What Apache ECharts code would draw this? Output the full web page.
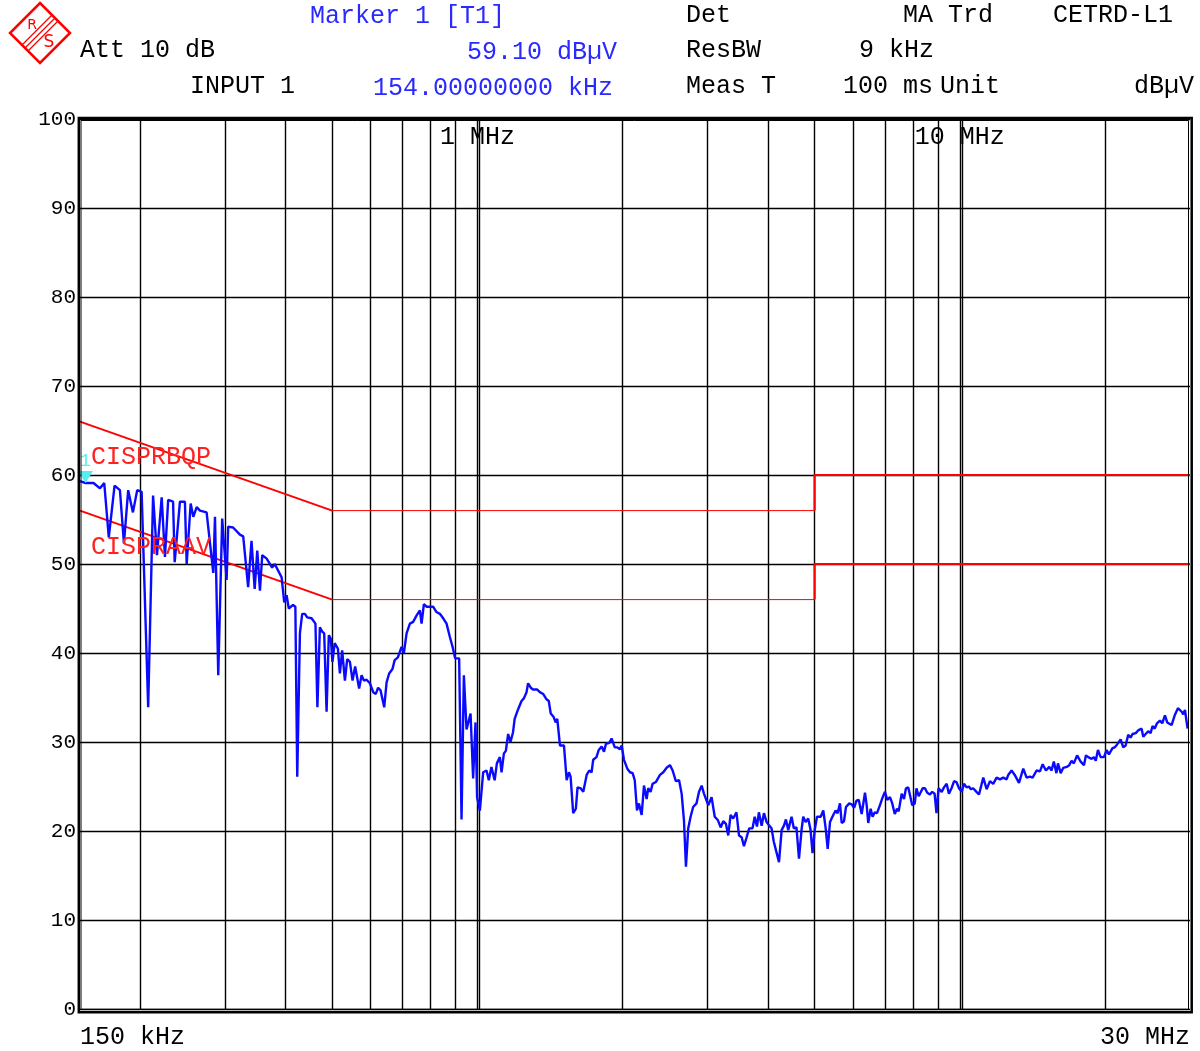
<!DOCTYPE html>
<html><head><meta charset="utf-8">
<script src="https://cdn.jsdelivr.net/npm/echarts@6/dist/echarts.min.js"></script>
<style>html,body{margin:0;padding:0;background:#fff}#c{width:1200px;height:1051px}</style>
</head><body><div id="c"></div>
<script>
// ---- data (frequency in MHz, level in dBµV) ----
const traceFreqMHz = [
0.150,0.154,0.160,0.165,0.1684,0.1721,0.1769,0.1815,0.1850,0.1888,0.1931,0.1971,0.2013,0.2077,0.2126,0.2166,0.2215,0.2250,0.2285,0.2339,
0.2357,0.2417,0.2475,0.2496,0.2544,0.2576,0.2618,0.2659,0.2745,0.2834,0.2857,0.2902,0.2957,0.3020,0.3043,0.3115,0.3218,0.3269,0.3347,0.3401,
0.3453,0.3496,0.3541,0.3580,0.3656,0.3753,0.3800,0.3927,0.3976,0.4021,0.4064,0.4147,0.4193,0.4231,0.4285,0.4332,0.4389,0.4437,0.4530,0.4615,
0.4658,0.4714,0.4766,0.4812,0.4867,0.4919,0.4966,0.5005,0.5059,0.5137,0.5186,0.5243,0.5312,0.5370,0.5440,0.5509,0.5578,0.5631,0.5685,0.5752,
0.5816,0.5891,0.5985,0.6079,0.6157,0.6224,0.6298,0.6408,0.6481,0.6561,0.6666,0.6736,0.6840,0.6962,0.7039,0.7130,0.7244,0.7357,0.7476,0.7597,
0.7659,0.7744,0.7843,0.7969,0.8093,0.8224,0.8358,0.8491,0.8629,0.8767,0.8879,0.8990,0.9164,0.9269,0.9372,0.9493,0.9676,0.9796,0.9908,0.9983,
1.0116,1.0277,1.0444,1.0557,1.0690,1.0772,1.0856,1.0972,1.1129,1.1219,1.1344,1.1452,1.1578,1.1709,1.1852,1.1943,1.2127,1.2342,1.2479,1.2640,
1.2735,1.2898,1.3039,1.3287,1.3469,1.3683,1.3905,1.4056,1.4188,1.4389,1.4524,1.4638,1.4829,1.5115,1.5309,1.5474,1.5599,1.5793,1.5996,1.6125,
1.6369,1.6573,1.6843,1.7051,1.7244,1.7374,1.7652,1.7839,1.8093,1.8294,1.8468,1.8761,1.8971,1.9260,1.9468,1.9745,1.9905,2.0126,2.0450,2.0711,
2.0975,2.1188,2.1415,2.1613,2.1898,2.2141,2.2426,2.2595,2.2854,2.3069,2.3432,2.3898,2.4278,2.4672,2.5067,2.5387,2.5779,2.6180,2.6504,2.6798,
2.7054,2.7351,2.7661,2.8000,2.8447,2.8794,2.9159,2.9483,2.9764,3.0091,3.0574,3.1040,3.1520,3.1929,3.2327,3.2744,3.3103,3.3479,3.3889,3.4430,
3.4850,3.5291,3.5683,3.6141,3.6589,3.7174,3.7566,3.7969,3.8319,3.8826,3.9257,3.9762,4.0255,4.0709,4.1148,4.1530,4.2181,4.2714,4.3189,4.3600,
4.4079,4.4786,4.5269,4.5845,4.6405,4.6992,4.7355,4.7896,4.8493,4.9043,4.9504,5.0022,5.0558,5.1472,5.2114,5.2709,5.3217,5.3806,5.4648,5.5263,
5.5781,5.6436,5.6893,5.7525,5.8073,5.8993,5.9653,6.0375,6.1053,6.1713,6.2591,6.3584,6.4100,6.4584,6.5323,6.5938,6.6627,6.7347,6.8304,6.9192,
6.9957,7.0722,7.1644,7.2423,7.3297,7.4090,7.4684,7.5755,7.6596,7.7325,7.8174,7.8821,7.9677,8.0639,8.1293,8.2172,8.2953,8.3747,8.4673,8.5599,
8.6715,8.7657,8.8649,8.9451,9.0319,9.1688,9.2706,9.3898,9.4916,9.6108,9.7300,9.8390,9.9610,10.087,10.199,10.330,10.442,10.540,10.656,10.826,
10.958,11.183,11.365,11.546,11.727,11.917,12.110,12.303,12.502,12.597,12.800,12.995,13.263,13.535,13.755,13.974,14.153,14.425,14.658,14.849,
15.083,15.322,15.494,15.661,15.857,15.974,16.183,16.384,16.651,16.857,17.047,17.231,17.499,17.802,18.084,18.257,18.457,18.753,18.956,19.131,
19.333,19.584,19.895,20.150,20.369,20.726,20.945,21.171,21.546,21.814,22.063,22.338,22.592,22.804,23.163,23.416,23.815,24.000,24.274,24.576,
24.855,25.089,25.351,25.625,25.990,26.276,26.619,26.910,27.474,27.890,28.322,28.825,29.048,29.285,29.660
];
const traceLevel = [
59.3,59.1,59.1,58.5,59.1,53.0,58.8,58.3,52.3,58.3,55.8,58.3,58.1,33.9,57.7,51.0,57.5,50.8,57.2,57.0,
50.2,57.0,57.0,50.0,56.8,55.3,56.4,56.0,55.8,49.0,55.3,37.5,55.1,48.2,54.2,54.1,53.3,53.1,47.4,52.6,
47.2,51.5,47.0,51.0,50.6,49.6,50.0,48.5,45.7,46.5,45.0,45.4,45.2,26.1,42.2,44.4,44.4,44.0,43.9,43.3,
33.9,42.9,42.4,42.2,33.4,42.0,41.6,39.0,41.1,40.5,37.7,40.3,36.9,39.3,39.0,36.9,38.5,38.4,36.0,37.5,
36.9,37.0,36.6,35.6,35.4,36.1,35.8,33.9,36.7,37.7,38.2,39.2,39.5,40.7,40.0,42.2,43.3,43.5,44.2,44.8,
43.3,45.5,45.2,45.2,45.2,44.6,44.4,43.9,43.3,41.8,40.7,39.4,39.4,21.3,37.5,31.4,33.2,25.9,32.2,23.8,
22.3,26.6,26.8,25.7,27.2,27.4,25.7,27.6,28.3,26.6,28.7,29.0,30.9,30.0,31.1,32.6,33.6,34.6,34.9,35.6,
36.6,36.1,35.9,35.9,35.6,35.4,34.8,34.6,33.2,32.8,32.2,32.6,29.6,29.6,25.7,26.6,26.1,22.0,22.5,24.9,
24.8,24.4,26.3,26.8,26.6,28.0,28.3,29.1,29.5,28.9,29.8,29.9,30.4,29.4,29.4,29.2,29.6,28.0,27.0,26.6,
26.5,25.7,22.3,23.1,21.8,25.1,23.6,24.8,24.4,25.3,25.5,26.3,26.6,27.1,27.4,26.8,25.6,25.7,24.2,21.2,
16.0,20.3,21.6,22.7,23.1,24.4,25.1,24.2,24.4,22.9,23.8,21.6,21.2,20.4,21.1,20.8,19.5,21.8,21.4,22.1,
19.5,19.3,18.3,19.3,20.3,20.3,21.6,20.5,22.1,20.6,22.0,21.0,20.6,20.3,18.8,19.0,16.5,20.1,20.6,21.3,
20.1,21.6,20.3,20.4,16.9,20.2,21.6,21.0,21.4,20.1,17.5,20.1,21.6,21.6,22.3,20.3,18.0,21.0,21.8,22.3,
22.0,23.1,20.9,21.1,22.7,23.1,23.0,22.6,23.4,23.5,21.9,24.3,22.9,20.9,22.5,21.6,22.1,22.0,22.9,23.8,
24.4,23.5,23.8,23.1,21.9,22.5,22.2,24.2,23.6,24.8,24.9,25.1,22.9,23.1,24.8,23.9,23.8,24.8,24.8,24.3,
24.1,24.4,24.2,22.0,24.8,24.4,24.9,25.3,24.2,24.8,25.6,25.5,24.8,24.4,25.3,24.9,25.0,24.7,24.8,24.4,
24.1,26.0,24.7,25.6,25.3,26.0,25.8,26.0,25.8,26.3,26.8,26.3,25.4,27.0,26.0,26.1,26.0,26.8,26.7,27.5,
26.8,27.2,26.8,27.8,26.5,27.6,26.5,27.1,27.2,27.4,27.9,27.6,28.5,27.8,27.4,28.5,28.3,28.1,28.3,27.9,
29.1,28.3,28.3,29.1,28.6,29.3,29.4,29.7,30.3,29.4,29.6,30.8,30.5,30.9,31.0,31.3,31.5,30.6,30.9,31.2,
31.0,31.8,31.5,32.1,32.4,32.1,33.0,32.2,31.9,33.0,33.8,33.4,33.1,33.6,31.5
];
const qpLimitFreq = [0.15, 0.5, 5, 5, 30];
const qpLimitLevel = [66, 56, 56, 60, 60];
const avLimitFreq = [0.15, 0.5, 5, 5, 30];
const avLimitLevel = [56, 46, 46, 50, 50];
const gridFreqs = [0.2,0.3,0.4,0.5,0.6,0.7,0.8,0.9,1,1.013,2,3,4,5,6,7,8,9,10,10.13,20];
const markerFreq = 0.154, markerLevel = 59.1;
const yMin = 0, yMax = 100, yStep = 10;
const xMin = 0.15, xMax = 30;

const pairs = (fs, ls) => fs.map((f, i) => [f, ls[i]]);
const trace = pairs(traceFreqMHz, traceLevel);
const qp = pairs(qpLimitFreq, qpLimitLevel);
const av = pairs(avLimitFreq, avLimitLevel);

const MONO = '"Liberation Mono", "DejaVu Sans Mono", monospace';
const BLUE = '#2a2aff', RED = '#ff0000';
function txt(text, x, y, fill, align) {
  return { type: 'text', x: x, y: y, z: 100, silent: true,
    style: { text: text, fill: fill || '#000', fontFamily: MONO, fontSize: 25,
      align: align || 'left', verticalAlign: 'middle' } };
}
function limitSeries(data, width) {
  return { type: 'line', data: data, symbol: 'none', silent: true, z: 3,
    lineStyle: { color: RED, width: width }, animation: false };
}

const chart = echarts.init(document.getElementById('c'), null, { renderer: 'canvas' });
chart.setOption({
  backgroundColor: '#fff',
  animation: false,
  grid: { left: 80, right: 10, top: 119, bottom: 42, containLabel: false },
  xAxis: [{
    type: 'log', logBase: 10, min: xMin, max: xMax, position: 'bottom',
    axisLine: { show: false }, axisTick: { show: false }, splitLine: { show: false },
    axisLabel: { show: true, showMinLabel: true, showMaxLabel: true, alignMinLabel: 'left', alignMaxLabel: 'right',
      margin: 16, color: '#000', fontFamily: MONO, fontSize: 25,
      formatter: v => Math.abs(v - xMin) < 1e-6 ? '150 kHz' : (Math.abs(v - xMax) < 1e-6 ? '30 MHz' : '') }
  }, {
    type: 'log', logBase: 10, min: xMin, max: xMax, position: 'top',
    axisLine: { show: false }, axisTick: { show: false }, splitLine: { show: false },
    axisLabel: { show: true, inside: true, showMinLabel: false, showMaxLabel: false, margin: 6,
      color: '#000', fontFamily: MONO, fontSize: 25,
      formatter: v => Math.abs(v - 1) < 1e-6 ? '1 MHz' : (Math.abs(v - 10) < 1e-6 ? '10 MHz' : '') }
  }],
  yAxis: {
    type: 'value', min: yMin, max: yMax, interval: yStep,
    axisLine: { show: false }, axisTick: { show: false },
    splitLine: { show: true, lineStyle: { color: '#000', width: 1.4 } },
    axisLabel: { color: '#000', fontFamily: MONO, fontSize: 21, margin: 4 }
  },
  series: [
    { type: 'line', data: [[xMin, yMin]], symbol: 'none', lineStyle: { width: 0 }, silent: true, z: 1,
      markLine: { silent: true, z: 1, symbol: ['none', 'none'], label: { show: false },
        lineStyle: { color: '#000', width: 1.4, type: 'solid' },
        emphasis: { disabled: true },
        data: gridFreqs.map(f => ({ xAxis: f })) } },
    limitSeries(qp.slice(0, 2), 2), limitSeries(qp.slice(1, 3), 1), limitSeries(qp.slice(2), 2.2),
    limitSeries(av.slice(0, 2), 2), limitSeries(av.slice(1, 3), 1), limitSeries(av.slice(2), 2.2),
    { type: 'line', data: trace, symbol: 'none', silent: true, z: 5,
      lineStyle: { color: '#0a0aff', width: 2.4 },
      markPoint: { silent: true, z: 6, symbol: 'triangle', symbolRotate: 180, symbolSize: [15, 12], symbolOffset: [0, -6],
        itemStyle: { color: '#55eeee' },
        label: { show: true, position: 'top', distance: 1, formatter: '1', color: '#55eeee', fontFamily: MONO, fontSize: 18 },
        data: [{ coord: [markerFreq, markerLevel] }] } }
  ],
  graphic: [
    // frame
    { type: 'rect', z: 90, silent: true, shape: { x: 78.8, y: 118, width: 1112.9, height: 894.3 },
      style: { fill: 'none', stroke: '#000', lineWidth: 2.5 } },
    { type: 'rect', z: 90, silent: true, shape: { x: 81, y: 120.5, width: 1107.5, height: 888.8 },
      style: { fill: 'none', stroke: '#000', lineWidth: 1 } },
    // R&S logo
    { type: 'group', x: 10, y: 3, z: 100, silent: true, children: [
      { type: 'polygon', shape: { points: [[30, 0], [60, 30], [30, 60], [0, 30]] },
        style: { fill: '#fff', stroke: RED, lineWidth: 2.5 } },
      { type: 'line', shape: { x1: 12, y1: 42, x2: 42, y2: 12 }, style: { stroke: RED, lineWidth: 1.2 } },
      { type: 'line', shape: { x1: 15, y1: 45, x2: 45, y2: 15 }, style: { stroke: RED, lineWidth: 1.2 } },
      { type: 'line', shape: { x1: 18, y1: 48, x2: 48, y2: 18 }, style: { stroke: RED, lineWidth: 1.2 } },
      { type: 'text', x: 22, y: 22, style: { text: 'R', fill: RED, fontFamily: '"DejaVu Sans"', fontSize: 14, align: 'center', verticalAlign: 'middle' } },
      { type: 'text', x: 39, y: 40, style: { text: 'S', fill: RED, fontFamily: '"DejaVu Sans"', fontSize: 17, align: 'center', verticalAlign: 'middle' } }
    ] },
    // header
    txt('Marker 1 [T1]', 310, 16, BLUE),
    txt('Det', 686, 15), txt('MA Trd', 903, 15), txt('CETRD-L1', 1053, 15),
    txt('Att 10 dB', 80, 50),
    txt('59.10 dBµV', 467, 52, BLUE),
    txt('ResBW', 686, 50), txt('9 kHz', 859, 50),
    txt('INPUT 1', 190, 86),
    txt('154.00000000 kHz', 373, 88, BLUE),
    txt('Meas T', 686, 86), txt('100 ms', 843, 86), txt('Unit', 940, 86),
    txt('dBµV', 1194, 86, '#000', 'right'),
    // limit labels
    txt('CISPRBQP', 91, 457, '#ff2020'),
    txt('CISPRAAV', 91, 547, '#ff2020')
  ]
});
</script>
</body></html>
